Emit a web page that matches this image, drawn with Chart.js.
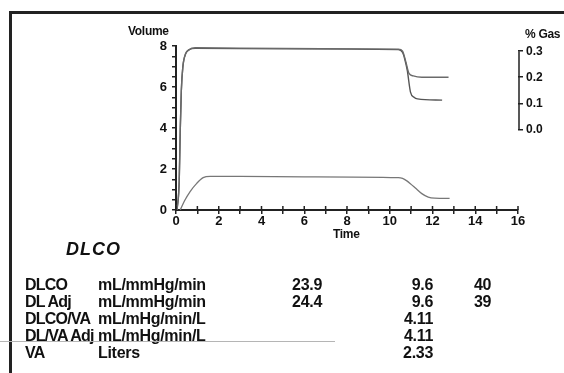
<!DOCTYPE html>
<html>
<head>
<meta charset="utf-8">
<script src="https://cdn.jsdelivr.net/npm/chart.js@4"></script>
<style>
  html, body { margin: 0; padding: 0; background: #fff; }
  body { width: 564px; height: 373px; position: relative; overflow: hidden; font-family: "Liberation Sans", Arial, sans-serif; color: #111; }
  #frameTop { position: absolute; left: 9px; top: 11px; width: 555px; height: 3px; background: #222; }
  #frameLeft { position: absolute; left: 9px; top: 11px; width: 3px; height: 362px; background: #222; }
  #scanLine { position: absolute; left: 0; top: 341px; width: 335px; height: 1px; background: #b5b5b5; }
  #chartBox { position: absolute; left: 0; top: 0; width: 564px; height: 245px; }
  .t { position: absolute; white-space: nowrap; font-weight: bold; line-height: 20px; }
  .axisTitle { font-size: 12px; letter-spacing: -0.3px; }
  #title { font-size: 18px; font-style: italic; letter-spacing: 1px; }
  .row { font-size: 16px; letter-spacing: -0.3px; }
  .lbl { letter-spacing: -0.8px; }
  .num { text-align: right; width: 60px; }
</style>
</head>
<body>
<div id="frameTop"></div>
<div id="frameLeft"></div>
<div id="chartBox"><canvas id="dlcoChart" width="564" height="245"></canvas></div>

<div class="t axisTitle" style="left:128px; top:21px;">Volume</div>
<div class="t axisTitle" style="left:525px; top:24px;">% Gas</div>
<div class="t axisTitle" style="left:333px; top:224px;">Time</div>

<div class="t" id="title" style="left:66px; top:239px;">DLCO</div>
<div id="table"></div>
<div id="scanLine"></div>

<script>
// lower trace: volume (L) against time (s)
var volumeTime = [0.2, 0.4, 0.66, 0.97, 1.27, 1.6, 3, 6, 10.4, 10.6, 10.8, 11.0, 11.2, 11.5, 11.8, 12.1, 12.8];
var volumeValues = [0, 0.45, 0.9, 1.3, 1.58, 1.64, 1.64, 1.62, 1.58, 1.54, 1.42, 1.25, 1.07, 0.8, 0.63, 0.58, 0.57];

// upper traces: gas concentration (%) against time (s)
var gasTimeA = [0.05, 0.15, 0.2, 0.25, 0.32, 0.45, 0.6, 0.9, 5, 10.4, 10.6, 10.75, 10.9, 11.1, 11.5, 12.75];
var gasValuesA = [-0.31, -0.2, 0.0, 0.15, 0.24, 0.29, 0.305, 0.313, 0.311, 0.308, 0.3, 0.26, 0.215, 0.205, 0.2, 0.2];
var gasTimeB = [0.05, 0.15, 0.2, 0.25, 0.32, 0.45, 0.6, 0.9, 5, 10.4, 10.6, 10.7, 10.82, 10.97, 11.15, 11.3, 12.45];
var gasValuesB = [-0.31, -0.2, 0.0, 0.15, 0.24, 0.29, 0.305, 0.311, 0.309, 0.306, 0.295, 0.27, 0.226, 0.143, 0.122, 0.117, 0.112];

// axis ticks
var timeTicks = [0, 1, 2, 3, 4, 5, 6, 7, 8, 9, 10, 11, 12, 13, 14, 15, 16];
var volumeTicks = [0, 0.5, 1, 1.5, 2, 2.5, 3, 3.5, 4, 4.5, 5, 5.5, 6, 6.5, 7, 7.5, 8];
var gasTicks = [0, 0.1, 0.2, 0.3];

// DLCO results table
var rowLabels = ["DLCO", "DL Adj", "DLCO/VA", "DL/VA Adj", "VA"];
var rowUnits = ["mL/mmHg/min", "mL/mmHg/min", "mL/mHg/min/L", "mL/mHg/min/L", "Liters"];
var actualValues = ["23.9", "24.4", "", "", ""];
var predValues = ["9.6", "9.6", "4.11", "4.11", "2.33"];
var pctValues = ["40", "39", "", "", ""];

function toPoints(xs, ys) {
    return xs.map(function (x, i) { return { x: x, y: ys[i] }; });
}

// build the table below the chart
var table = document.getElementById("table");
rowLabels.forEach(function (label, i) {
    var top = 275 + i * 17;
    var html = '<div class="t row lbl" style="left:25px; top:' + top + 'px;">' + label + '</div>' +
        '<div class="t row" style="left:98px; top:' + top + 'px;">' + rowUnits[i] + '</div>' +
        '<div class="t row num" style="left:262px; top:' + top + 'px;">' + actualValues[i] + '</div>' +
        '<div class="t row num" style="left:373px; top:' + top + 'px;">' + predValues[i] + '</div>' +
        '<div class="t row" style="left:474px; top:' + top + 'px;">' + pctValues[i] + '</div>';
    table.insertAdjacentHTML("beforeend", html);
});

// short ticks above the time axis and the short % Gas axis line
var axisExtras = {
    id: "axisExtras",
    afterDraw: function (chart) {
        var ctx = chart.ctx;
        var x = chart.scales.x;
        var g = chart.scales.y2;
        ctx.save();
        ctx.strokeStyle = "#222";
        ctx.lineWidth = 1.5;
        ctx.beginPath();
        x.ticks.forEach(function (t) {
            var px = x.getPixelForValue(t.value);
            ctx.moveTo(px, x.top);
            ctx.lineTo(px, x.top - 4);
        });
        ctx.moveTo(g.left + 1, g.getPixelForValue(0.3));
        ctx.lineTo(g.left + 1, g.getPixelForValue(0));
        ctx.stroke();
        ctx.restore();
    }
};

var tickFont = { family: "Liberation Sans", size: 13, weight: "bold" };

new Chart(document.getElementById("dlcoChart").getContext("2d"), {
    type: "line",
    data: {
        datasets: [{
            data: toPoints(gasTimeA, gasValuesA),
            yAxisID: "y2",
            borderColor: "#6a6a6a",
            borderWidth: 1.4
        }, {
            data: toPoints(gasTimeB, gasValuesB),
            yAxisID: "y2",
            borderColor: "#555",
            borderWidth: 1.4
        }, {
            data: toPoints(volumeTime, volumeValues),
            yAxisID: "y",
            borderColor: "#777",
            borderWidth: 1.3
        }]
    },
    options: {
        responsive: false,
        animation: false,
        devicePixelRatio: 1,
        cubicInterpolationMode: "monotone",
        elements: { point: { radius: 0 } },
        layout: { padding: { top: 46, left: 0, right: 0, bottom: 0 } },
        plugins: { legend: { display: false }, tooltip: { enabled: false } },
        scales: {
            x: {
                type: "linear",
                min: 0,
                max: 16,
                afterBuildTicks: function (scale) {
                    scale.ticks = timeTicks.map(function (v) { return { value: v }; });
                },
                afterFit: function (scale) { scale.height = 35; },
                ticks: {
                    autoSkip: false,
                    maxRotation: 0,
                    padding: 0,
                    color: "#111",
                    font: tickFont,
                    callback: function (v) { return v % 2 === 0 ? v : ""; }
                },
                grid: { drawOnChartArea: false, tickLength: 4, color: "#222", lineWidth: 1.5 },
                border: { color: "#222", width: 2 }
            },
            y: {
                min: 0,
                max: 8,
                afterBuildTicks: function (scale) {
                    scale.ticks = volumeTicks.map(function (v) { return { value: v }; });
                },
                afterFit: function (scale) { scale.width = 176; },
                ticks: {
                    autoSkip: false,
                    padding: 5,
                    color: "#111",
                    font: tickFont,
                    callback: function (v) { return v % 2 === 0 ? v : ""; }
                },
                grid: { drawOnChartArea: false, tickLength: 4, color: "#222", lineWidth: 1.5 },
                border: { color: "#222", width: 2 }
            },
            y2: {
                position: "right",
                min: -0.31,
                max: 0.32,
                afterBuildTicks: function (scale) {
                    scale.ticks = gasTicks.map(function (v) { return { value: v }; });
                },
                afterFit: function (scale) { scale.width = 46; },
                ticks: {
                    autoSkip: false,
                    padding: 3,
                    color: "#111",
                    font: { family: "Liberation Sans", size: 12, weight: "bold" },
                    callback: function (v) { return v.toFixed(1); }
                },
                grid: { drawOnChartArea: false, tickLength: 5, color: "#222", lineWidth: 1.5 },
                border: { display: false }
            }
        }
    },
    plugins: [axisExtras]
});
</script>
</body>
</html>
